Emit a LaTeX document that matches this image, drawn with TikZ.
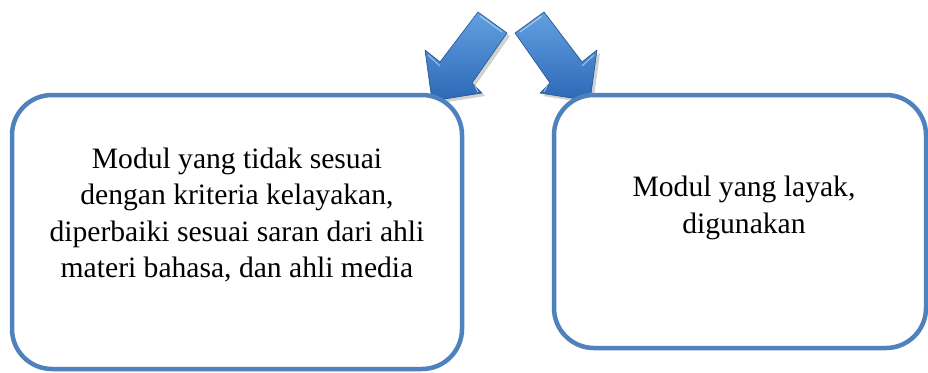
\documentclass[tikz,border=0pt]{standalone}
\usepackage{fontspec}
\setmainfont{Liberation Serif}
\definecolor{garis}{RGB}{79,129,189}
\definecolor{panahterang}{RGB}{98,160,225}
\definecolor{panahgelap}{RGB}{44,104,182}

\begin{document}
\begin{tikzpicture}[x=1pt,y=-1pt,
	kotak/.style={draw=garis,fill=white,line width=4.5pt,rounded corners=40pt},
	teks/.style={align=center,font=\fontsize{29.6}{36.5}\selectfont},
	panah/.style={draw=panahgelap!80!black,line width=0.6pt,line join=round,top color=panahterang,bottom color=panahgelap},
	kilap/.style={draw=white,opacity=0.45,line width=1.2pt,line join=round},
	bayang/.style={fill=black,opacity=0.18,draw=none}]
	
	\useasboundingbox (0,0) rectangle (928,372);
	
	\fill[bayang,xshift=3pt,yshift=-3pt] (478,12) -- (507,33) -- (472,83) -- (482,93) -- (432,101) -- (425,50) -- (440,62) -- cycle;
	\fill[bayang,xshift=3pt,yshift=-3pt] (544,12) -- (515,33) -- (550,83) -- (540,93) -- (590,101) -- (597,50) -- (582,62) -- cycle;
	\draw[panah] (478,12) -- (507,33) -- (472,83) -- (482,93) -- (432,101) -- (425,50) -- (440,62) -- cycle;
	\draw[panah] (544,12) -- (515,33) -- (550,83) -- (540,93) -- (590,101) -- (597,50) -- (582,62) -- cycle;
	\draw[kilap] (480,16) -- (502,32) (428,55) -- (440,66) (475,86) -- (478,92);
	\draw[kilap] (542,16) -- (520,32) (594,55) -- (582,66) (547,86) -- (544,92);
	
	\node[kotak,minimum width=450pt,minimum height=274pt] (revisi) at (237,232) {};
	\node[kotak,minimum width=372pt,minimum height=253pt] (layak) at (740,221.5) {};
	
	\node[teks] (isirevisi) at (237,215) {Modul yang tidak sesuai\\dengan kriteria kelayakan,\\diperbaiki sesuai saran dari ahli\\materi bahasa, dan ahli media};
	\node[teks] (isilayak) at (744,208) {Modul yang layak,\\digunakan};
	
\end{tikzpicture}
\end{document}
